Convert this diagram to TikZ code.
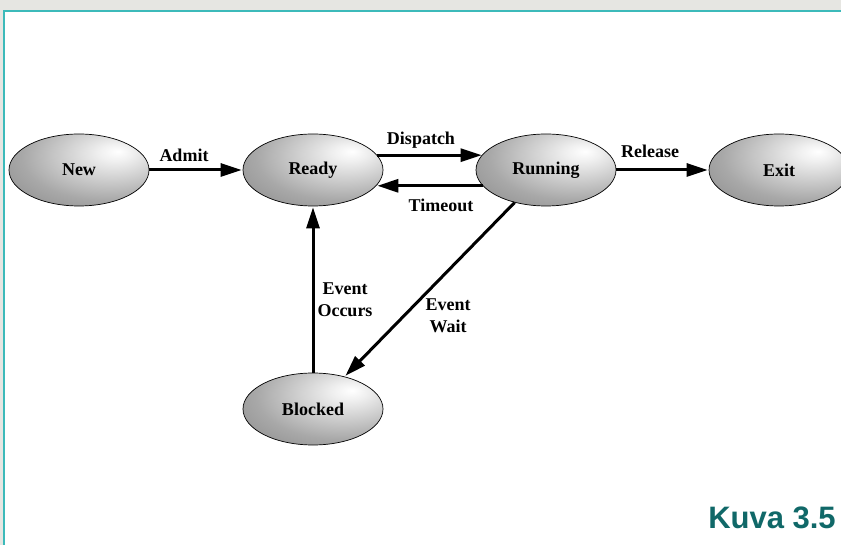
\documentclass[tikz,border=0pt]{standalone}
\usepackage{fontspec}
\setmainfont{Liberation Serif}
\newfontfamily\kuvafont{Liberation Sans}
\usetikzlibrary{arrows.meta,shapes.geometric}
\definecolor{framegray}{RGB}{230,230,226}
\definecolor{frameteal}{RGB}{60,186,186}
\definecolor{kuvateal}{RGB}{16,104,104}
\pgfdeclareradialshading{ellshade}{\pgfpoint{14bp}{13bp}}{%
  color(0bp)=(white); color(6bp)=(white!94!black); color(30bp)=(white!66!black);
  color(60bp)=(white!44!black); color(100bp)=(white!40!black)}
\tikzset{
  state/.style={ellipse, draw=black, line width=0.7pt, minimum width=140pt, minimum height=72pt,
    inner sep=0pt, shading=ellshade, font=\fontsize{18}{20}\selectfont\bfseries},
  conn/.style={line width=3pt, -{Triangle[length=21pt,width=13pt]}, shorten >=1pt},
  lbl/.style={font=\fontsize{18}{22}\selectfont\bfseries, align=center, inner sep=0pt}
}
\begin{document}
\begin{tikzpicture}[x=1pt,y=-1pt]
\useasboundingbox (0,0) rectangle (841,545);
\fill[framegray] (0,0) rectangle (841,545);
\fill[white] (4,11) rectangle (841,545);
\draw[frameteal, line width=1.6pt] (4,545) -- (4,11) -- (841,11);
\begin{scope}
\clip (4,11) rectangle (841,545);
\node[state] (new) at (79,170) {New};
\node[state] (ready) at (313,170) {Ready};
\node[state] (running) at (546,170) {Running};
\node[state] (exit) at (779,170) {Exit};
\node[state] (blocked) at (313,409) {Blocked};
\end{scope}
\draw[conn] (new.east) -- (ready.west);
\draw[conn] (ready.13.5) -- (ready.13.5 -| running.166.5);
\draw[conn] (running.-166) -- (running.-166 -| ready.-14);
\draw[conn] (running.east) -- (exit.west);
\draw[conn] (running.226) -- (blocked);
\draw[conn] (blocked.north) -- (ready.south);
\node[lbl] (ladmit) at (184,155) {Admit};
\node[lbl] (ldispatch) at (421,140) {Dispatch};
\node[lbl] (ltimeout) at (441,205) {Timeout};
\node[lbl] (lrelease) at (650,151) {Release};
\node[lbl] (loccurs) at (345,300) {Event\\Occurs};
\node[lbl] (lwait) at (448,316) {Event\\Wait};
\node[font=\kuvafont\fontsize{31}{36}\selectfont\bfseries, text=kuvateal, inner sep=0pt] (kuva) at (772,518) {Kuva 3.5};
\end{tikzpicture}
\end{document}
